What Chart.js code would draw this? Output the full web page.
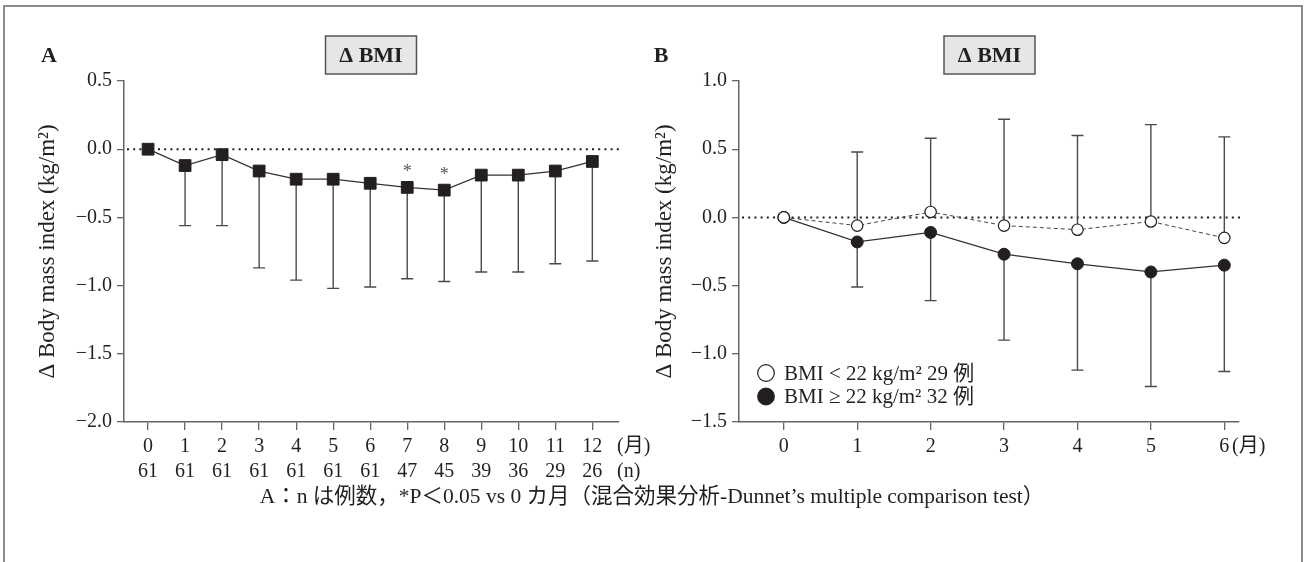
<!DOCTYPE html>
<html lang="ja">
<head>
<meta charset="utf-8">
<title>ΔBMI</title>
<script src="https://cdn.jsdelivr.net/npm/chart.js@4.4.0/dist/chart.umd.min.js"></script>
<style>
  html, body { margin: 0; padding: 0; background: #fff; }
  #pagina { position: relative; width: 1304px; height: 562px; overflow: hidden; }
  #marco { position: absolute; left: 3px; top: 5px; width: 1296px; height: 600px; border: 2px solid #8c8c8c; border-bottom: none; }
  canvas { position: absolute; left: 0; top: 0; }
  #nota { position: absolute; left: 0; top: 484px; width: 1304px; line-height: 24px; text-align: center;
          font-size: 21.5px; font-family: 'Liberation Serif', 'Noto Sans CJK JP', serif; color: #231f20; }
</style>
</head>
<body>
<div id="pagina">
  <div id="marco"></div>
  <canvas id="graficaA" width="1304" height="562"></canvas>
  <canvas id="graficaB" width="1304" height="562"></canvas>
  <div id="nota">A：n は例数，*P＜0.05 vs 0 カ月（混合効果分析-Dunnet’s multiple comparison test）</div>
</div>
<script>
// Panel A: todos los pacientes, media y límite inferior (media - DE)
const mesesA = [0, 1, 2, 3, 4, 5, 6, 7, 8, 9, 10, 11, 12];
const casosA = [61, 61, 61, 61, 61, 61, 61, 47, 45, 39, 36, 29, 26];
const mediaA = [0, -0.12, -0.04, -0.16, -0.22, -0.22, -0.25, -0.28, -0.30, -0.19, -0.19, -0.16, -0.09];
const limiteA = [null, -0.56, -0.56, -0.87, -0.96, -1.02, -1.01, -0.95, -0.97, -0.90, -0.90, -0.84, -0.82];
const signifA = [7, 8];
const ticksYA = [0.5, 0.0, -0.5, -1.0, -1.5, -2.0];

// Panel B: por grupo de BMI basal
const mesesB = [0, 1, 2, 3, 4, 5, 6];
const mediaBajo = [0, -0.06, 0.04, -0.06, -0.09, -0.03, -0.15];
const superiorBajo = [null, 0.48, 0.58, 0.72, 0.60, 0.68, 0.59];
const mediaAlto = [0, -0.18, -0.11, -0.27, -0.34, -0.40, -0.35];
const inferiorAlto = [null, -0.51, -0.61, -0.90, -1.12, -1.24, -1.13];
const ticksYB = [1.0, 0.5, 0.0, -0.5, -1.0, -1.5];
const leyendaB = ['BMI < 22 kg/m² 29 例', 'BMI ≥ 22 kg/m² 32 例'];

const tinta = '#231f20';
const ejeColor = '#666';
const fuente = "'Liberation Serif', 'Noto Sans CJK JP', serif";
Chart.defaults.font.family = fuente;
Chart.defaults.color = tinta;

// Etiqueta del eje Y con signo menos tipográfico
function etiquetaY(v) {
    const s = Math.abs(v).toFixed(1);
    return v < -1e-9 ? '−' + s : s;
}

// Plugin para línea punteada, barras de error, títulos y leyenda
const decoracion = {
    id: 'decoracion',
    beforeDatasetsDraw(chart, args, opts) {
        const { ctx, chartArea, scales: { x, y } } = chart;
        ctx.save();
        const y0 = y.getPixelForValue(0);
        ctx.strokeStyle = tinta;
        ctx.lineWidth = 2;
        ctx.setLineDash([2, 4.2]);
        ctx.beginPath();
        ctx.moveTo(chartArea.left + 3, y0);
        ctx.lineTo(chartArea.right + opts.extraCero, y0);
        ctx.stroke();
        ctx.setLineDash([]);

        chart.data.datasets.forEach(ds => {
            if (!ds.errores) return;
            ds.data.forEach((p, i) => {
                const fin = ds.errores[i];
                if (fin === null) return;
                const px = x.getPixelForValue(p.x);
                const py1 = y.getPixelForValue(p.y);
                const py2 = y.getPixelForValue(fin);
                ctx.strokeStyle = '#4a4a4a';
                ctx.lineWidth = 1.4;
                ctx.beginPath();
                ctx.moveTo(px, py1);
                ctx.lineTo(px, py2);
                ctx.moveTo(px - 6, py2);
                ctx.lineTo(px + 6, py2);
                ctx.stroke();
            });
        });
        ctx.restore();
    },
    afterDraw(chart, args, opts) {
        const { ctx, chartArea, scales: { x, y } } = chart;
        ctx.save();

        // letra del panel
        ctx.fillStyle = tinta;
        ctx.font = 'bold 22px ' + fuente;
        ctx.textAlign = 'center';
        ctx.textBaseline = 'middle';
        ctx.fillText(opts.letra, opts.letraX, 56);

        // caja del título
        const bx = opts.cajaX - 45.5;
        ctx.fillStyle = '#e6e6e6';
        ctx.fillRect(bx, 36, 91, 38);
        ctx.strokeStyle = '#555';
        ctx.lineWidth = 1.5;
        ctx.strokeRect(bx, 36, 91, 38);
        ctx.fillStyle = tinta;
        ctx.fillText('Δ BMI', opts.cajaX, 56);

        // unidades al final del eje X
        ctx.font = '20px ' + fuente;
        ctx.textAlign = 'left';
        opts.unidades.forEach((u, i) => {
            ctx.fillText(u, opts.unidadX, x.top + 25 + i * 25);
        });

        // asteriscos de significancia
        if (opts.signif) {
            ctx.font = '18px ' + fuente;
            ctx.textAlign = 'center';
            ctx.textBaseline = 'alphabetic';
            ctx.fillStyle = '#555';
            const ds = chart.data.datasets[0];
            opts.signif.forEach(m => {
                const p = ds.data.find(d => d.x === m);
                ctx.fillText('*', x.getPixelForValue(m), y.getPixelForValue(p.y) - 10);
            });
        }

        // leyenda
        if (opts.leyenda) {
            ctx.font = '21px ' + fuente;
            ctx.textAlign = 'left';
            ctx.textBaseline = 'middle';
            chart.data.datasets.forEach((ds, i) => {
                const cy = chartArea.bottom - 49 + i * 23.5;
                const cx = chartArea.left + 27;
                ctx.beginPath();
                ctx.arc(cx, cy, 8.3, 0, Math.PI * 2);
                ctx.fillStyle = ds.pointBackgroundColor;
                ctx.fill();
                ctx.strokeStyle = tinta;
                ctx.lineWidth = 1.2;
                ctx.stroke();
                ctx.fillStyle = tinta;
                ctx.fillText(ds.label, cx + 18, cy + 1);
            });
        }
        ctx.restore();
    }
};

function ejeX(meses, min, max, etiqueta) {
    return {
        type: 'linear',
        min: min,
        max: max,
        afterBuildTicks: s => { s.ticks = meses.map(v => ({ value: v })); },
        afterFit: s => { s.height = 140; },
        ticks: {
            callback: etiqueta,
            font: { size: 20, lineHeight: 1.25 },
            padding: 4,
            maxRotation: 0,
            autoSkip: false,
            color: tinta
        },
        grid: { drawOnChartArea: false, drawTicks: true, tickLength: 8, color: ejeColor, lineWidth: 1.3 },
        border: { display: true, color: ejeColor, width: 1.5 }
    };
}

function ejeY(valores, ancho, relleno) {
    return {
        min: Math.min(...valores),
        max: Math.max(...valores),
        afterBuildTicks: s => { s.ticks = valores.map(v => ({ value: v })); },
        afterFit: s => { s.width = ancho; },
        ticks: { callback: etiquetaY, font: { size: 20 }, padding: 5, color: tinta },
        grid: { drawOnChartArea: false, drawTicks: true, tickLength: 7, color: ejeColor, lineWidth: 1.3 },
        border: { display: true, color: ejeColor, width: 1.5 },
        title: {
            display: true,
            text: 'Δ Body mass index (kg/m²)',
            font: { size: 23 },
            color: tinta,
            padding: { top: relleno, bottom: 0 }
        }
    };
}

// Gráfica A
new Chart(document.getElementById('graficaA').getContext('2d'), {
    type: 'line',
    data: {
        datasets: [{
            label: 'ΔBMI',
            data: mesesA.map((m, i) => ({ x: m, y: mediaA[i] })),
            errores: limiteA,
            borderColor: '#333',
            borderWidth: 1.3,
            pointStyle: 'rect',
            pointRadius: 8.3,
            pointBackgroundColor: tinta,
            pointBorderColor: tinta,
            pointBorderWidth: 1,
            tension: 0,
            fill: false
        }]
    },
    options: {
        responsive: false,
        animation: false,
        layout: { padding: { left: 0, top: 81, right: 685, bottom: 0 } },
        scales: {
            x: ejeX(mesesA, -0.65, 12.72, v => {
                const i = mesesA.indexOf(v);
                return [String(mesesA[i]), String(casosA[i])];
            }),
            y: ejeY(ticksYA, 124, 34)
        },
        plugins: {
            legend: { display: false },
            tooltip: { enabled: false },
            decoracion: {
                letra: 'A', letraX: 49, cajaX: 371, extraCero: 3,
                unidades: ['(月)', '(n)'], unidadX: 617,
                signif: signifA
            }
        }
    },
    plugins: [decoracion]
});

// Gráfica B
new Chart(document.getElementById('graficaB').getContext('2d'), {
    type: 'line',
    data: {
        datasets: [{
            label: leyendaB[0],
            data: mesesB.map((m, i) => ({ x: m, y: mediaBajo[i] })),
            errores: superiorBajo,
            borderColor: '#444',
            borderWidth: 1,
            borderDash: [4, 3],
            pointRadius: 5.7,
            pointBackgroundColor: '#ffffff',
            pointBorderColor: tinta,
            pointBorderWidth: 1.2,
            tension: 0,
            fill: false
        }, {
            label: leyendaB[1],
            data: mesesB.map((m, i) => ({ x: m, y: mediaAlto[i] })),
            errores: inferiorAlto,
            borderColor: '#333',
            borderWidth: 1.3,
            pointRadius: 6,
            pointBackgroundColor: tinta,
            pointBorderColor: tinta,
            pointBorderWidth: 1,
            tension: 0,
            fill: false
        }]
    },
    options: {
        responsive: false,
        animation: false,
        layout: { padding: { left: 650, top: 81, right: 65, bottom: 0 } },
        scales: {
            x: ejeX(mesesB, -0.61, 6.2, v => String(v)),
            y: ejeY(ticksYB, 89, 1)
        },
        plugins: {
            legend: { display: false },
            tooltip: { enabled: false },
            decoracion: {
                letra: 'B', letraX: 661, cajaX: 989.5, extraCero: 1,
                unidades: ['(月)'], unidadX: 1232,
                leyenda: true
            }
        }
    },
    plugins: [decoracion]
});
</script>
</body>
</html>
